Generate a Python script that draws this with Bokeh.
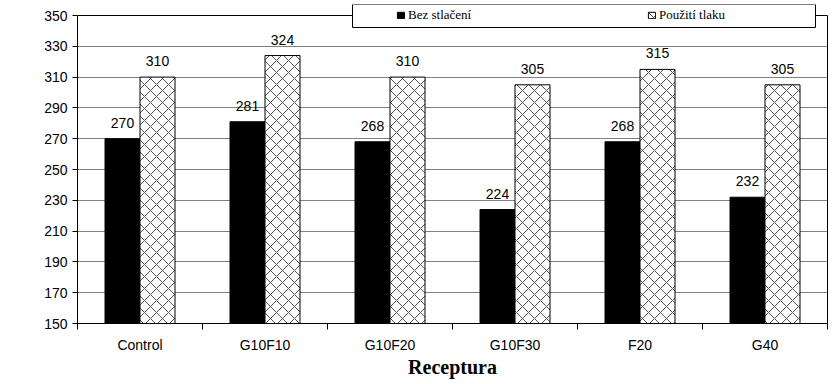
from bokeh.plotting import figure
from bokeh.models import (FixedTicker, Legend, LegendItem, BoxAnnotation,
                          ColumnDataSource, Range1d, LabelSet, Span, LinearAxis)
from bokeh.core.properties import value
from bokeh.embed import file_html
from bokeh.resources import INLINE

categories = ["Control", "G10F10", "G10F20", "G10F30", "F20", "G40"]
bez_stlaceni = [270, 281, 268, 224, 268, 232]
pouziti_tlaku = [310, 324, 310, 305, 315, 305]
y_ticks = [150, 170, 190, 210, 230, 250, 270, 290, 310, 330, 350]

BAR_W = 0.28
idx = list(range(len(categories)))
centers = [i + 0.5 for i in idx]
src = ColumnDataSource(dict(
    x1=[c - BAR_W / 2 for c in centers],
    x2=[c + BAR_W / 2 for c in centers],
    bez=bez_stlaceni,
    pou=pouziti_tlaku,
    bl=[str(v) for v in bez_stlaceni],
    pl=[str(v) for v in pouziti_tlaku],
))

# frame: page y 4..323 ; value axis 150 at 323, 350 at 15
y0, y1 = y_ticks[0], y_ticks[-1]
y_end = y1 + 11 * (y1 - y0) / 308.0

p = figure(width=838, height=384, x_range=Range1d(0, len(categories)),
           y_range=Range1d(y0, y_end),
           output_backend="svg", toolbar_location=None,
           min_border_left=77, min_border_right=11, min_border_top=4,
           min_border_bottom=61)
p.background_fill_color = "white"
p.border_fill_color = "white"
p.outline_line_color = None

r1 = p.vbar(x="x1", top="bez", bottom=y0, width=BAR_W, source=src,
            fill_color="black", line_color="black")
r2 = p.vbar(x="x2", top="pou", bottom=y0, width=BAR_W, source=src,
            fill_color="white", line_color="black",
            hatch_pattern="diagonal_cross", hatch_color="#555555",
            hatch_scale=12, hatch_weight=1)

for col, xcol, lab in (("bez", "x1", "bl"), ("pou", "x2", "pl")):
    p.add_layout(LabelSet(x=xcol, y=col, text=lab, source=src,
                          text_align="center", text_baseline="bottom",
                          y_offset=11, text_font=value("Liberation Sans"),
                          text_font_size=value("14px"), text_color="black"))

# x axis
xa = p.xaxis[0]
xa.ticker = FixedTicker(ticks=centers, minor_ticks=list(range(len(categories) + 1)))
xa.major_label_overrides = {c: cat for c, cat in zip(centers, categories)}
xa.major_tick_line_color = None
xa.major_tick_out = 0
xa.major_tick_in = 0
xa.minor_tick_line_color = "black"
xa.minor_tick_out = 6
xa.minor_tick_in = 0
xa.major_label_standoff = 7
xa.major_label_text_font = "Liberation Sans"
xa.major_label_text_font_size = "14px"
xa.major_label_text_color = "black"
xa.axis_line_color = "black"
xa.axis_label = "Receptura"
xa.axis_label_text_font = "Liberation Serif"
xa.axis_label_text_font_style = "bold"
xa.axis_label_text_font_size = "20px"
xa.axis_label_text_color = "black"
xa.axis_label_standoff = 0

# y axis
ya = p.yaxis[0]
ya.ticker = FixedTicker(ticks=y_ticks)
ya.bounds = (y0, y1)
ya.major_tick_out = 5
ya.major_tick_in = 0
ya.minor_tick_line_color = None
ya.major_tick_line_color = "black"
ya.axis_line_color = "black"
ya.major_label_standoff = 5
ya.major_label_text_font = "Liberation Sans"
ya.major_label_text_font_size = "14px"
ya.major_label_text_color = "black"

# right border of the plot area (150..350 only)
ra = LinearAxis(bounds=(y0, y1), ticker=FixedTicker(ticks=[]),
                major_tick_line_color=None, minor_tick_line_color=None,
                major_tick_out=0, major_tick_in=0, minor_tick_out=0,
                major_label_text_font_size="0px", axis_line_color="black")
p.add_layout(ra, "right")

p.xgrid.grid_line_color = None
p.ygrid.ticker = FixedTicker(ticks=y_ticks)
p.ygrid.grid_line_color = "#808080"
p.ygrid.grid_line_width = 1

# top border of the plot area at 350
p.add_layout(Span(location=y1, dimension="width", line_color="black",
                  line_width=1))

# legend box and legend
box = BoxAnnotation(left=275, right=738, top=319, bottom=296,
                    left_units="screen", right_units="screen",
                    top_units="screen", bottom_units="screen",
                    fill_color="white", fill_alpha=1.0,
                    line_color="black", line_width=1, line_alpha=1.0)
p.add_layout(box)

legend = Legend(items=[LegendItem(label="Bez stlačení", renderers=[r1]),
                       LegendItem(label="Použití tlaku", renderers=[r2])],
                orientation="horizontal", location=(319, 300),
                border_line_color=None, background_fill_alpha=0,
                padding=0, margin=0, spacing=10, label_width=229,
                label_height=14, glyph_width=9, glyph_height=8,
                label_standoff=3, label_text_font="Liberation Serif",
                label_text_font_size="13px", label_text_color="black",
                level="overlay")
p.add_layout(legend)

open("out.html", "w").write(file_html(p, INLINE))
